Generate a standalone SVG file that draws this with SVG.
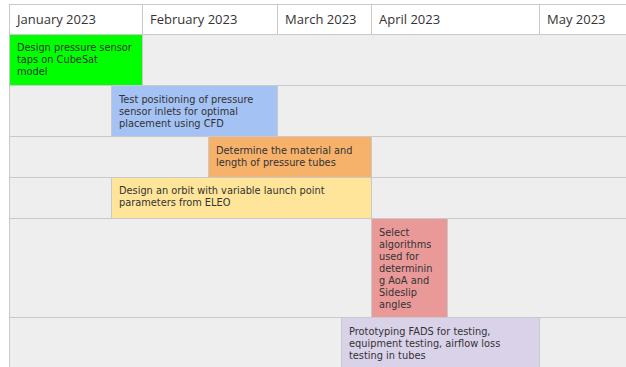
<svg xmlns="http://www.w3.org/2000/svg" width="626" height="367" viewBox="0 0 626 367">
<style>
.hd{fill:#ffffff;stroke:#c9c9c9;stroke-width:1}
.row{fill:#eeeeee;stroke:#c9c9c9;stroke-width:1}
.bar{stroke:#c9c9c9;stroke-width:1}
.ht{font-family:"Open Sans","Liberation Sans",sans-serif;font-size:13px;fill:#333333}
.tt{font-family:"DejaVu Sans","Liberation Sans",sans-serif;font-size:9.8px;fill:#333333}
</style>
<rect x="0" y="0" width="626" height="367" fill="#ffffff"/>
<g id="header">
<rect class="hd" x="9.5" y="4.5" width="133" height="30"/>
<rect class="hd" x="142.5" y="4.5" width="135" height="30"/>
<rect class="hd" x="277.5" y="4.5" width="94" height="30"/>
<rect class="hd" x="371.5" y="4.5" width="168" height="30"/>
<rect class="hd" x="539.5" y="4.5" width="100" height="30"/>
<text class="ht" x="17" y="24">January 2023</text>
<text class="ht" x="150" y="24">February 2023</text>
<text class="ht" x="285" y="24">March 2023</text>
<text class="ht" x="379" y="24">April 2023</text>
<text class="ht" x="547" y="24">May 2023</text>
</g>
<g id="rows">
<rect class="row" x="9.5" y="34.5" width="630" height="51"/>
<rect class="row" x="9.5" y="85.5" width="630" height="51"/>
<rect class="row" x="9.5" y="136.5" width="630" height="41"/>
<rect class="row" x="9.5" y="177.5" width="630" height="41"/>
<rect class="row" x="9.5" y="218.5" width="630" height="99"/>
<rect class="row" x="9.5" y="317.5" width="630" height="60"/>
</g>
<g id="task1">
<rect class="bar" x="9.5" y="34.5" width="133" height="51" fill="#00ff00"/>
<text class="tt" x="17" y="51">Design pressure sensor</text>
<text class="tt" x="17" y="63">taps on CubeSat</text>
<text class="tt" x="17" y="75">model</text>
</g>
<g id="task2">
<rect class="bar" x="111.5" y="85.5" width="166" height="51" fill="#a4c2f4"/>
<text class="tt" x="119" y="103">Test positioning of pressure</text>
<text class="tt" x="119" y="115">sensor inlets for optimal</text>
<text class="tt" x="119" y="127">placement using CFD</text>
</g>
<g id="task3">
<rect class="bar" x="208.5" y="136.5" width="163" height="41" fill="#f6b26b"/>
<text class="tt" x="216" y="154">Determine the material and</text>
<text class="tt" x="216" y="166">length of pressure tubes</text>
</g>
<g id="task4">
<rect class="bar" x="111.5" y="177.5" width="260" height="41" fill="#ffe599"/>
<text class="tt" x="119" y="194">Design an orbit with variable launch point</text>
<text class="tt" x="119" y="206">parameters from ELEO</text>
</g>
<g id="task5">
<rect class="bar" x="371.5" y="218.5" width="76" height="99" fill="#ea9999"/>
<text class="tt" x="379" y="236">Select</text>
<text class="tt" x="379" y="248">algorithms</text>
<text class="tt" x="379" y="260">used for</text>
<text class="tt" x="379" y="272">determinin</text>
<text class="tt" x="379" y="284">g AoA and</text>
<text class="tt" x="379" y="296">Sideslip</text>
<text class="tt" x="379" y="308">angles</text>
</g>
<g id="task6">
<rect class="bar" x="341.5" y="317.5" width="198" height="60" fill="#d9d2e9"/>
<text class="tt" x="349" y="335">Prototyping FADS for testing,</text>
<text class="tt" x="349" y="347">equipment testing, airflow loss</text>
<text class="tt" x="349" y="359">testing in tubes</text>
</g>
</svg>
